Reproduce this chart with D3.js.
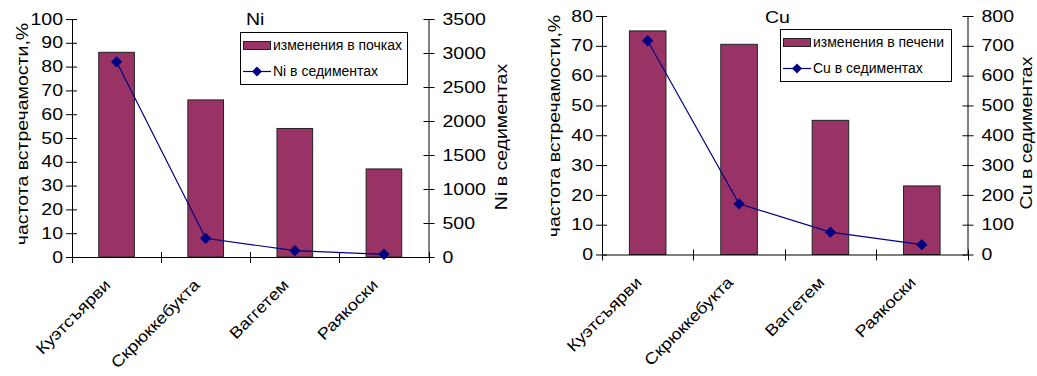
<!DOCTYPE html>
<html lang="ru">
<head>
<meta charset="UTF-8">
<title>Ni, Cu</title>
<script src="https://d3js.org/d3.v7.min.js"></script>
<style>
    body { margin: 0; background: #fff; }
    text { font-family: "Liberation Sans", Arial, sans-serif; fill: #000; }
</style>
</head>
<body>
<div id="chart"></div>
<script>
    // data
    var categories = ["Куэтсъярви", "Скрюккебукта", "Ваггетем", "Раякоски"];
    var niKidney = [86, 66, 54, 37];          // изменения в почках, %
    var niSediment = [2870, 275, 93, 40];     // Ni в седиментах
    var cuLiver = [75, 70.5, 45, 23];         // изменения в печени, %
    var cuSediment = [717, 170, 75, 33];      // Cu в седиментах
    var niPctTicks = [0, 10, 20, 30, 40, 50, 60, 70, 80, 90, 100];
    var niSedTicks = [0, 500, 1000, 1500, 2000, 2500, 3000, 3500];
    var cuPctTicks = [0, 10, 20, 30, 40, 50, 60, 70, 80];
    var cuSedTicks = [0, 100, 200, 300, 400, 500, 600, 700, 800];

    var SX = 1.22; // the big labels are drawn wide
    var barColor = "#993366", lineColor = "#000080";

    var svg = d3.select("#chart").append("svg")
        .attr("width", 1037)
        .attr("height", 376);

    function drawChart(cfg) {
        var g = svg.append("g");

        var x = d3.scaleBand()
            .domain(categories)
            .range([cfg.x0, cfg.x1])
            .paddingInner(0.6)
            .paddingOuter(0.3);
        var yL = d3.scaleLinear().domain([0, d3.max(cfg.leftTicks)]).range([cfg.y0, cfg.y1]);
        var yR = d3.scaleLinear().domain([0, d3.max(cfg.rightTicks)]).range([cfg.y0, cfg.y1]);
        var cx = d => x(d) + x.bandwidth() / 2;

        // bars
        g.append("g").selectAll("rect")
            .data(categories)
            .enter().append("rect")
            .attr("x", d => x(d))
            .attr("y", (d, i) => yL(cfg.bars[i]))
            .attr("width", x.bandwidth())
            .attr("height", (d, i) => cfg.y0 - yL(cfg.bars[i]))
            .attr("fill", barColor)
            .attr("stroke", "#222")
            .attr("stroke-width", 1);

        // left axis
        g.append("g")
            .attr("transform", "translate(" + cfg.x0 + ",0)")
            .call(d3.axisLeft(yL).tickValues(cfg.leftTicks).tickFormat(d3.format("d"))
                .tickSizeInner(6).tickSizeOuter(0))
            .attr("font-size", 16)
            .attr("font-family", null)
            .call(a => a.selectAll(".tick line").attr("x1", 5))
            .call(a => a.selectAll(".tick text")
                .attr("x", -9 / SX)
                .attr("transform", "scale(" + SX + ",1)"));

        // right axis
        g.append("g")
            .attr("transform", "translate(" + cfg.x1 + ",0)")
            .call(d3.axisRight(yR).tickValues(cfg.rightTicks).tickFormat(d3.format("d"))
                .tickSizeInner(6).tickSizeOuter(0))
            .attr("font-size", 16)
            .attr("font-family", null)
            .call(a => a.selectAll(".tick line").attr("x1", -5))
            .call(a => a.selectAll(".tick text")
                .attr("x", 14 / SX)
                .attr("transform", "scale(" + SX + ",1)"));

        // category axis, ticks between the categories
        var bounds = categories.map(d => cx(d) - x.step() / 2);
        bounds.push(cx(categories[categories.length - 1]) + x.step() / 2);
        g.append("line")
            .attr("x1", cfg.x0).attr("x2", cfg.x1)
            .attr("y1", cfg.y0 + 0.5).attr("y2", cfg.y0 + 0.5)
            .attr("stroke", "#000");
        g.append("g").selectAll("line")
            .data(bounds)
            .enter().append("line")
            .attr("x1", d => Math.round(d) + 0.5).attr("x2", d => Math.round(d) + 0.5)
            .attr("y1", cfg.y0 - 5).attr("y2", cfg.y0 + 6)
            .attr("stroke", "#000");

        g.append("g").selectAll("text")
            .data(categories)
            .enter().append("text")
            .attr("transform", d => "translate(" + (cx(d) - 5) + "," + (cfg.y0 + 29) + ") rotate(-45) scale(1.15,1)")
            .attr("text-anchor", "end")
            .style("font-size", "16px")
            .text(d => d);

        // sediment line
        var line = d3.line()
            .x((d, i) => cx(categories[i]))
            .y(d => yR(d));
        g.append("path")
            .datum(cfg.line)
            .attr("d", line)
            .attr("fill", "none")
            .attr("stroke", lineColor)
            .attr("stroke-width", 1.2);
        g.append("g").selectAll("path")
            .data(cfg.line)
            .enter().append("path")
            .attr("d", d3.symbol(d3.symbolSquare, 64))
            .attr("transform", (d, i) => "translate(" + cx(categories[i]) + "," + yR(d) + ") rotate(45)")
            .attr("fill", lineColor);

        // axis titles
        g.append("text")
            .attr("transform", "translate(" + cfg.leftTitleX + "," + cfg.leftTitleY + ") rotate(-90) scale(" + SX + ",1)")
            .attr("text-anchor", "middle")
            .style("font-size", "16px")
            .text("частота встречамости,%");
        g.append("text")
            .attr("transform", "translate(" + cfg.rightTitleX + "," + cfg.rightTitleY + ") rotate(-90) scale(" + SX + ",1)")
            .attr("text-anchor", "middle")
            .style("font-size", "16px")
            .text(cfg.rightTitle);

        // chart title
        g.append("text")
            .attr("transform", "translate(" + cfg.titleX + "," + cfg.titleY + ") scale(" + SX + ",1)")
            .style("font-size", "16px")
            .text(cfg.title);

        // legend
        var lg = g.append("g").attr("transform", "translate(" + cfg.legX + "," + cfg.legY + ")");
        lg.append("rect")
            .attr("x", 0.5).attr("y", 0.5)
            .attr("width", cfg.legW).attr("height", 52)
            .attr("fill", "#fff")
            .attr("stroke", "#000");
        lg.append("rect")
            .attr("x", 3.5).attr("y", 9.5)
            .attr("width", 27).attr("height", 8)
            .attr("fill", barColor)
            .attr("stroke", "#222");
        lg.append("text")
            .attr("x", 33).attr("y", 18)
            .style("font-size", "14px")
            .text(cfg.barLabel);
        lg.append("line")
            .attr("x1", 3).attr("x2", 31)
            .attr("y1", 39.5).attr("y2", 39.5)
            .attr("stroke", lineColor)
            .attr("stroke-width", 1.2);
        lg.append("path")
            .attr("d", d3.symbol(d3.symbolSquare, 50))
            .attr("transform", "translate(17,39.5) rotate(45)")
            .attr("fill", lineColor);
        lg.append("text")
            .attr("x", 33).attr("y", 44)
            .style("font-size", "14px")
            .text(cfg.lineLabel);
    }

    drawChart({
        x0: 72, x1: 428.5, y0: 257, y1: 19,
        bars: niKidney, line: niSediment,
        leftTicks: niPctTicks, rightTicks: niSedTicks,
        leftTitleX: 28, leftTitleY: 134,
        rightTitleX: 507, rightTitleY: 137, rightTitle: "Ni в седиментах",
        title: "Ni", titleX: 246, titleY: 25,
        legX: 240, legY: 32, legW: 167,
        barLabel: "изменения в почках", lineLabel: "Ni в седиментах"
    });

    drawChart({
        x0: 602, x1: 967.5, y0: 254.5, y1: 16,
        bars: cuLiver, line: cuSediment,
        leftTicks: cuPctTicks, rightTicks: cuSedTicks,
        leftTitleX: 560, leftTitleY: 126,
        rightTitleX: 1032, rightTitleY: 133, rightTitle: "Cu в седиментах",
        title: "Cu", titleX: 765, titleY: 23,
        legX: 780, legY: 29, legW: 171,
        barLabel: "изменения в печени", lineLabel: "Cu в седиментах"
    });
</script>
</body>
</html>
